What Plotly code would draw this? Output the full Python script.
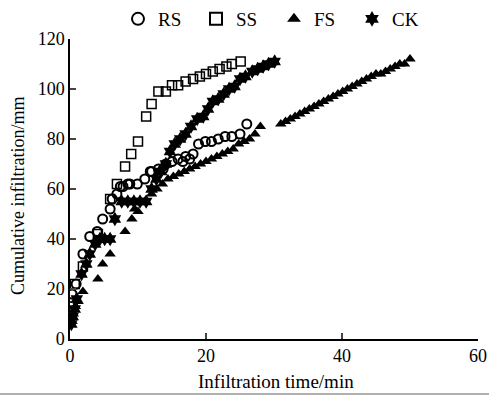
import plotly.graph_objects as go

# RS
rs_x = [0.3, 0.9, 1.9, 2.9, 4.0, 4.8, 5.9, 6.2, 6.9, 7.4, 7.8, 8.5, 8.8, 9.9, 11.0, 11.8, 12.0, 13.0, 13.7, 14.1, 15.0, 15.9, 16.6, 17.0, 17.6, 18.1, 18.9, 19.9, 20.8, 21.8, 22.8, 23.8, 25.0, 26.0]
rs_y = [18, 22, 34, 41, 43, 48, 52, 56, 58, 61, 61, 62, 62, 62, 64, 67, 67, 68, 68, 70, 71, 72, 71, 73, 72, 74, 78, 79, 79, 80, 81, 81, 82, 86]

# SS
ss_x = [0.3, 0.7, 1.9, 4.1, 5.9, 6.9, 8.1, 9.0, 10.0, 11.2, 12.0, 13.0, 14.1, 15.0, 15.9, 17.0, 18.1, 19.1, 20.0, 21.0, 22.0, 23.0, 23.8, 25.1]
ss_y = [13, 22, 29, 42, 56, 62, 69, 74, 79, 89, 94, 99, 99, 101.5, 101.5, 103, 104, 105, 106, 107, 108, 109, 110, 111]

# FS
fs_x = [0.3, 0.5, 0.8, 1.2, 1.9, 4.1, 4.8, 5.9, 8.1, 9.1, 9.5, 10.0, 11.0, 12.0, 12.8, 13.6, 14.4, 15.2, 16.0, 16.8, 17.6, 18.4, 19.2, 20.0, 20.8, 21.6, 22.4, 23.2, 24.0, 24.8, 25.6, 26.4, 27.2, 28.0,
        31.0, 31.7, 32.4, 33.1, 33.8, 34.5, 35.2, 35.9, 36.6, 37.3, 38.0, 38.7, 39.4, 40.1, 40.8, 41.5, 42.2, 42.9, 43.6, 44.3, 45.0, 45.7, 46.4, 47.1, 47.8, 48.5, 49.2, 50.0]
fs_y = [7, 10, 13, 15, 19, 24, 30, 34, 43, 48, 52, 51, 55, 58, 60, 62, 64, 65, 66, 67, 68, 69, 70, 71, 72, 73, 74, 75, 76, 78, 79, 80, 82, 85,
        86, 87, 88, 89, 90, 91, 92, 93, 94, 95, 96, 97, 98, 99, 100, 101, 102, 103, 104, 105, 106, 106, 107, 108, 109, 110, 110, 112]

# CK
ck_x = [0.2, 0.4, 0.7, 1.0, 1.7, 2.4, 2.9, 3.7, 4.4, 5.1, 5.9, 6.6, 7.6, 8.5, 9.4, 10.3, 11.2, 12.0, 12.7, 13.4, 14.1, 14.7, 15.4, 16.2, 17.0, 17.8, 18.7, 19.6, 20.3, 21.0, 21.8, 22.6, 23.4, 24.2, 25.0, 25.8, 26.8, 27.6, 28.4, 29.2, 30.1]
ck_y = [6, 9, 12, 16, 26, 30, 34, 38, 40, 40, 40, 48, 55, 55, 55, 55, 55, 60, 64, 67, 70, 75, 78, 80, 82, 85, 88, 89, 92, 95, 96, 98, 100, 101, 104, 105, 107, 108, 109, 110, 111]

x_ticks = [0, 20, 40, 60]
y_ticks = [0, 20, 40, 60, 80, 100, 120]

FONT = "Liberation Serif, Times New Roman, serif"

fig = go.Figure()
fig.add_trace(go.Scatter(x=rs_x, y=rs_y, mode="markers", name="RS",
                         marker=dict(symbol="circle-open", size=9, color="black", line=dict(width=2, color="black"))))
fig.add_trace(go.Scatter(x=ss_x, y=ss_y, mode="markers", name="SS",
                         marker=dict(symbol="square-open", size=9, color="black", line=dict(width=1.5, color="black"))))
fig.add_trace(go.Scatter(x=fs_x, y=fs_y, mode="markers", name="FS",
                         marker=dict(symbol="triangle-up", size=10, color="black")))
fig.add_trace(go.Scatter(x=ck_x, y=ck_y, mode="markers", name="CK",
                         marker=dict(symbol="hexagram", size=11, color="black")))

fig.update_layout(
    width=489, height=396,
    margin=dict(l=70, r=11, t=39, b=57, autoexpand=False),
    paper_bgcolor="white", plot_bgcolor="white",
    font=dict(family=FONT, size=18, color="black"),
    showlegend=True,
    legend=dict(orientation="h", x=118/489, xanchor="left", y=1.0, yanchor="top",
                yref="container", xref="container",
                entrywidth=33, entrywidthmode="pixels", itemwidth=30,
                font=dict(family=FONT, size=19), itemsizing="constant",
                bgcolor="rgba(0,0,0,0)", tracegroupgap=0),
    xaxis=dict(range=[0, 60], tickvals=x_ticks, ticks="inside", ticklen=6, tickwidth=1.5,
               showline=True, linecolor="black", linewidth=1.5, showgrid=False, zeroline=False,
               automargin=False, tickfont=dict(family=FONT, size=18)),
    yaxis=dict(range=[0, 120], tickvals=y_ticks, ticks="inside", ticklen=6, tickwidth=1.5,
               showline=True, linecolor="black", linewidth=1.5, showgrid=False, zeroline=False,
               automargin=False, tickfont=dict(family=FONT, size=18)),
    annotations=[
        dict(text="Infiltration time/min", xref="paper", yref="paper",
             x=(276 - 70) / 408, y=(339 - 381) / 300, xanchor="center", yanchor="middle",
             showarrow=False, font=dict(family=FONT, size=19)),
        dict(text="Cumulative infiltration/mm", xref="paper", yref="paper",
             x=(18 - 70) / 408, y=(339 - 196) / 300, xanchor="center", yanchor="middle",
             textangle=-90, showarrow=False, font=dict(family=FONT, size=18)),
    ],
)
fig.add_shape(type="line", xref="paper", yref="paper", x0=-70/408, x1=419/408, y0=-55/300, y1=-55/300,
              line=dict(color="#b0b0b0", width=2))
fig.write_html("out.html")
